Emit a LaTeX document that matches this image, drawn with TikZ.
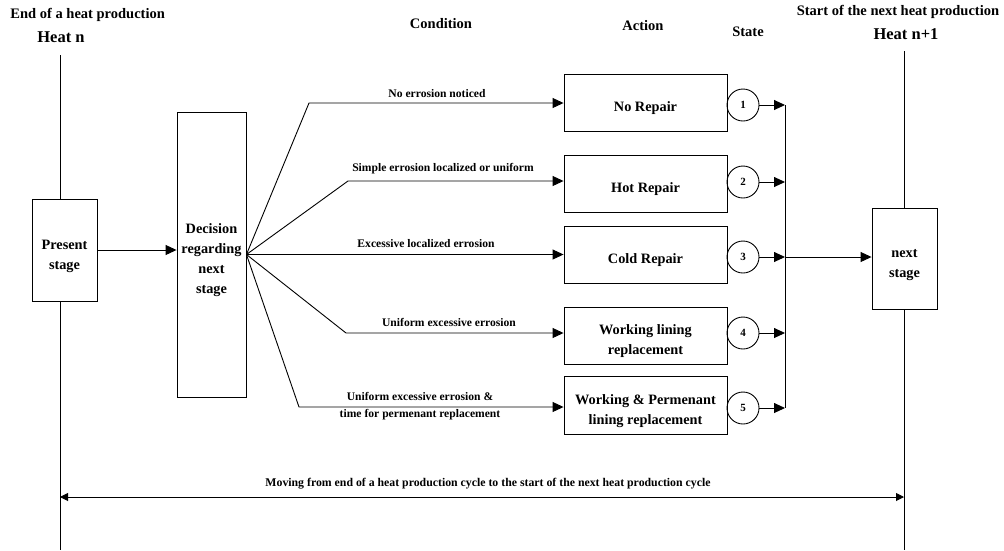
\documentclass[tikz,border=0pt]{standalone}
\usepackage{fontspec}
\setmainfont{Liberation Serif}
\usetikzlibrary{arrows.meta}
\newcommand\lowtext[1]{\raisebox{-5pt}[\height][\depth]{\begin{tabular}{@{}c@{}}#1\end{tabular}}}
\begin{document}
\begin{tikzpicture}[x=1pt,y=-1pt, line width=0.9pt,
  tip/.style={-{Triangle[length=11pt,width=10pt]}},
  box/.style={draw, inner sep=0pt, font=\bfseries\fontsize{14.3}{20}\selectfont},
  cond/.style={font=\bfseries\fontsize{11.6}{17}\selectfont, inner sep=0pt, align=center},
  head/.style={font=\bfseries\fontsize{14.5}{16}\selectfont, inner sep=0pt},
  big/.style={font=\bfseries\fontsize{16.5}{18}\selectfont, inner sep=0pt},
  statec/.style={draw, circle, minimum size=32pt, inner sep=0pt, font=\bfseries\fontsize{11}{12}\selectfont}]
\useasboundingbox (0,0) rectangle (1004,550);
% headers
\node[head, anchor=west] (h1) at (10,15) {End of a heat production};
\node[big] (h2) at (61,37) {Heat n};
\node[head] (h3) at (441,24) {Condition};
\node[head] (h4) at (643,26) {Action};
\node[head] (h5) at (748,32) {State};
\node[head] (h6) at (898,12) {Start of the next heat production};
\node[big] (h7) at (906,34) {Heat n+1};
% boxes
\node[box, minimum width=65pt, minimum height=102pt] (present) at (64.5,250) {\lowtext{Present\\stage}};
\node[box, minimum width=69pt, minimum height=285pt] (decision) at (211.5,254.5) {\lowtext{Decision\\regarding\\next\\stage}};
\node[box, minimum width=163pt, minimum height=57pt] (a1) at (645.5,102.5) {\lowtext{No Repair}};
\node[box, minimum width=163pt, minimum height=57pt] (a2) at (645.5,183.5) {\lowtext{Hot Repair}};
\node[box, minimum width=163pt, minimum height=57pt] (a3) at (645.5,254.5) {\lowtext{Cold Repair}};
\node[box, minimum width=163pt, minimum height=57pt] (a4) at (645.5,335.5) {\lowtext{Working lining\\replacement}};
\node[box, minimum width=163pt, minimum height=58pt] (a5) at (645.5,405) {\lowtext{Working \& Permenant\\lining replacement}};
\node[box, minimum width=65pt, minimum height=101pt] (next) at (904.5,258.5) {\lowtext{next\\stage}};
% states
\node[statec] (s1) at (743,105) {1};
\node[statec] (s2) at (743,182) {2};
\node[statec] (s3) at (743,257) {3};
\node[statec] (s4) at (743,333) {4};
\node[statec] (s5) at (743,408) {5};
% coordinates
\coordinate (hnTop) at (60,55);
\coordinate (hnBot) at (60,550);
\coordinate (hmTop) at (904,51);
\coordinate (hmBot) at (904,550);
\coordinate (b1) at (309,103);
\coordinate (b2) at (348,181);
\coordinate (b4) at (346,333);
\coordinate (b5) at (299,407);
\coordinate (bus1) at (785,105);
\coordinate (bus2) at (785,182);
\coordinate (bus3) at (785,257);
\coordinate (bus4) at (785,333);
\coordinate (bus5) at (785,408);
\coordinate (ml) at (60,497);
\coordinate (mr) at (904,497);
% timeline lines
\draw (hnTop) -- (hnTop |- present.north);
\draw (hnTop |- present.south) -- (hnBot);
\draw (hmTop) -- (hmTop |- next.north);
\draw (hmTop |- next.south) -- (hmBot);
% present -> decision
\draw[tip] (present.east) -- (present.east -| decision.west);
% fan
\draw[tip] (decision.east) -- (b1) -- (b1 -| a1.west);
\draw[tip] (decision.east) -- (b2) -- (b2 -| a2.west);
\draw[tip] (decision.east) -- (decision.east -| a3.west);
\draw[tip] (decision.east) -- (b4) -- (b4 -| a4.west);
\draw[tip] (decision.east) -- (b5) -- (b5 -| a5.west);
% condition labels
\node[cond] (c1) at (437,94) {No errosion noticed};
\node[cond] (c2) at (443,169) {Simple errosion localized or uniform};
\node[cond] (c3) at (426,244) {Excessive localized errosion};
\node[cond] (c4) at (449,322) {Uniform excessive errosion};
\node[cond] (c5) at (420,406) {Uniform excessive errosion \&\\time for permenant replacement};
% states -> bus
\draw[tip] (s1.east) -- (bus1);
\draw[tip] (s2.east) -- (bus2);
\draw[tip] (s3.east) -- (bus3);
\draw[tip] (s4.east) -- (bus4);
\draw[tip] (s5.east) -- (bus5);
\draw (bus1) -- (bus5);
\draw[tip] (bus3) -- (bus3 -| next.west);
% bottom arrow
\draw[{Triangle[length=8pt,width=8pt]}-{Triangle[length=8pt,width=8pt]}] (ml) -- (mr);
\node[cond, font=\bfseries\fontsize{11.8}{14}\selectfont] (mv) at (488,484) {Moving from end of a heat production cycle to the start of the next heat production cycle};
\end{tikzpicture}
\end{document}
